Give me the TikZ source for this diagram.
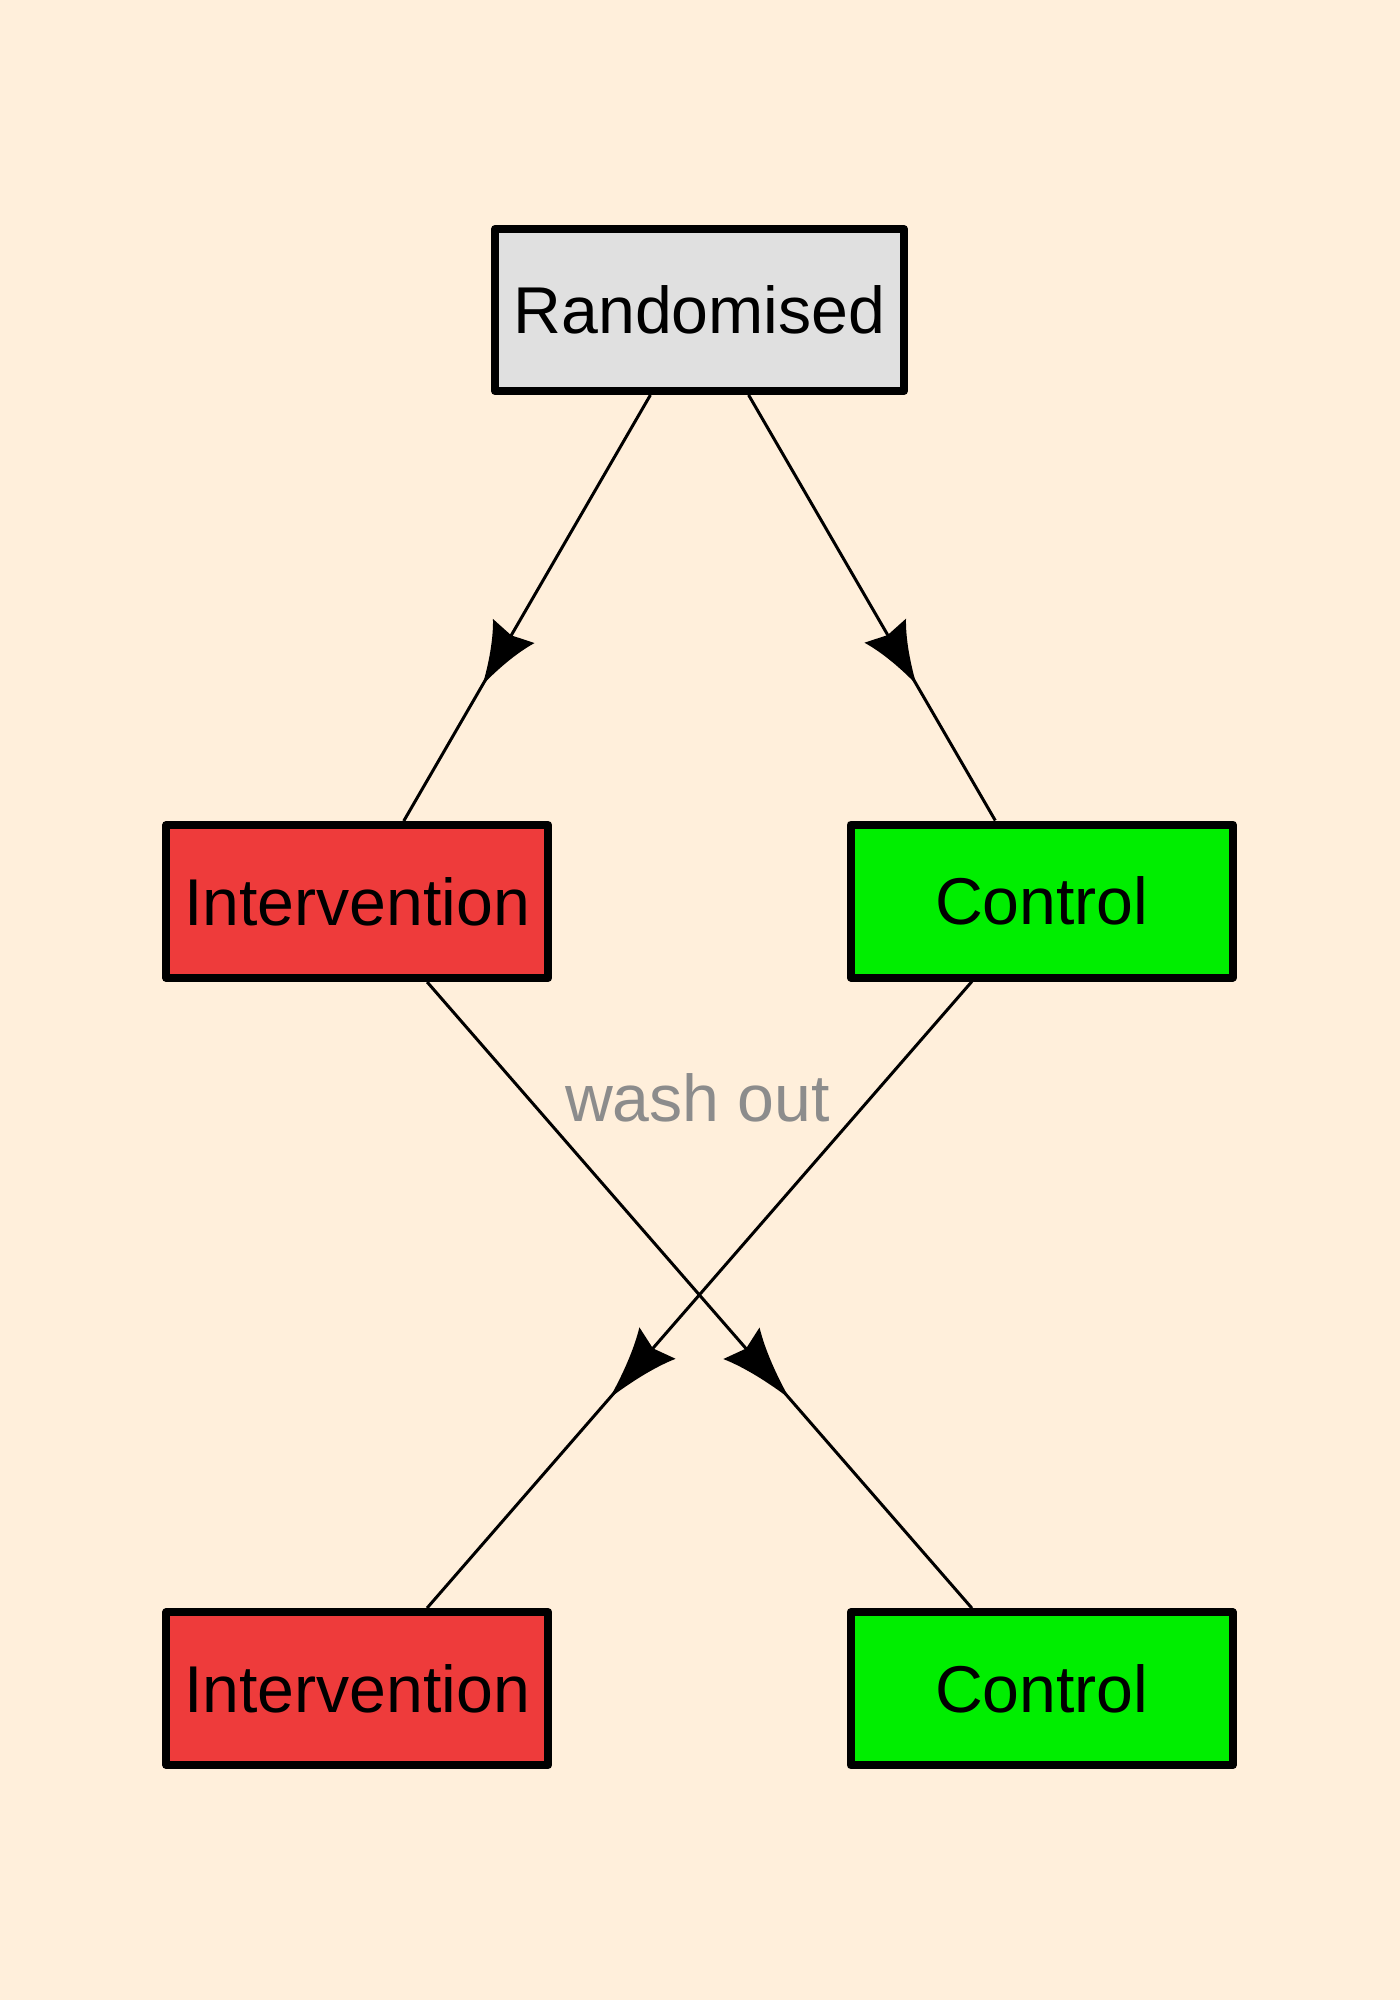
\documentclass[tikz,border=0pt]{standalone}
\usepackage{fontspec}
\setmainfont{Liberation Sans}
\usetikzlibrary{decorations.markings}
\definecolor{bg}{HTML}{FFEFDB}
\definecolor{randfill}{HTML}{E0E0E0}
\definecolor{intfill}{HTML}{EE3B3B}
\definecolor{ctrlfill}{HTML}{00EE00}
\definecolor{washgrey}{HTML}{8C8C8C}
\tikzset{
  box/.style={draw=black, line width=4pt, line join=round, minimum width=191pt,
    minimum height=76.5pt, inner sep=0pt, font=\fontsize{33.1pt}{40pt}\selectfont},
  headtop/.style={postaction={decorate}, decoration={markings,
    mark=at position 0.68 with {\fill[black] (0pt,0pt) .. controls (-10pt,2.5pt) and (-22pt,6.5pt) .. (-31pt,12pt)
      .. controls (-30pt,6pt) .. (-28.5pt,0pt) .. controls (-30pt,-6pt) .. (-31pt,-12pt)
      .. controls (-22pt,-6.5pt) and (-10pt,-2.5pt) .. (0pt,0pt) -- cycle;}}},
  headcross/.style={postaction={decorate}, decoration={markings,
    mark=at position 0.665 with {\fill[black] (0pt,0pt) .. controls (-12pt,2.5pt) and (-26pt,6.5pt) .. (-36.5pt,12pt)
      .. controls (-35pt,6pt) .. (-33pt,0pt) .. controls (-35pt,-6pt) .. (-36.5pt,-12pt)
      .. controls (-26pt,-6.5pt) and (-12pt,-2.5pt) .. (0pt,0pt) -- cycle;}}},
  conn/.style={draw=black, line width=1.5pt}
}
\begin{document}
\begin{tikzpicture}[x=0.5pt,y=-0.5pt]
\fill[bg] (0,0) rectangle (1400,2000);
\useasboundingbox (0,0) rectangle (1400,2000);

\node[box, fill=randfill, minimum width=204.5pt, minimum height=81pt] (rand) at (699.5,310) {Randomised};
\node[box, fill=intfill] (int1) at (357.3,901.5) {Intervention};
\node[box, fill=ctrlfill] (ctl1) at (1041.7,901) {Control};
\node[box, fill=intfill] (int2) at (357.3,1688.5) {Intervention};
\node[box, fill=ctrlfill] (ctl2) at (1041.7,1688.7) {Control};

\node[anchor=base, text=washgrey, inner sep=0pt, font=\fontsize{33.1pt}{40pt}\selectfont] (wash) at (697.5,1121.7) {wash out};

\draw[conn, headtop] (rand) -- (int1);
\draw[conn, headtop] (rand) -- (ctl1);
\draw[conn, headcross] (int1) -- (ctl2);
\draw[conn, headcross] (ctl1) -- (int2);
\end{tikzpicture}
\end{document}
